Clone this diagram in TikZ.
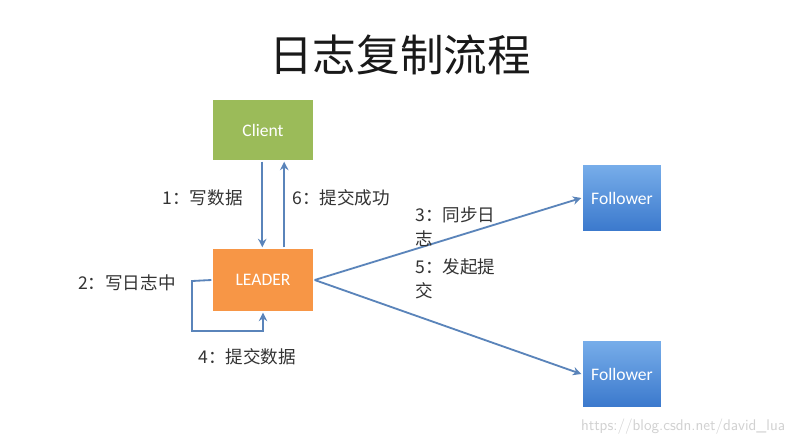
\documentclass[tikz,border=0pt]{standalone}
\usepackage{fontspec}
\setmainfont{Carlito}
\newfontfamily\cjk{Noto Sans CJK SC}
\usetikzlibrary{arrows.meta,shadows}
\definecolor{cgreen}{HTML}{9BBB59}
\definecolor{corange}{HTML}{F79646}
\definecolor{cbluetop}{HTML}{78AEEA}
\definecolor{cbluebot}{HTML}{3A78CC}
\definecolor{carrow}{HTML}{5A84BA}
\tikzset{
  box/.style={draw=white, line width=1pt, minimum width=2.55cm, minimum height=1.55cm,
    inner sep=0pt, font=\fontsize{12.5}{14}\selectfont, text=white,
    drop shadow={shadow xshift=0.6pt, shadow yshift=-0.9pt, opacity=0.35}},
  fbox/.style={box, minimum width=2cm, minimum height=1.7cm, top color=cbluetop, bottom color=cbluebot},
  conn/.style={draw=carrow, line width=1.3pt, -{Stealth[length=6pt,width=6pt]}},
  lbl/.style={font=\cjk\fontsize{12.5}{17.5}\selectfont, text=black!80, inner sep=0pt},
}
\begin{document}
\begin{tikzpicture}[x=0.025cm, y=-0.025cm]
\useasboundingbox[fill=white] (0,0) rectangle (800,442);
\node[font=\cjk\fontsize{31}{36}\selectfont, text=black!90] (title) at (400,55) {日志复制流程};
\node[box, fill=cgreen] (client) at (263,130) {Client};
\node[box, fill=corange, minimum height=1.6cm] (leader) at (263,280) {LEADER};
\node[fbox] (f1) at (622,198) {Follower};
\node[fbox] (f2) at (622,374) {Follower};
\draw[conn] ([xshift=-0.5pt]client.south) -- ([xshift=-0.5pt]leader.north);
\draw[conn] ([xshift=0.53cm]leader.north) -- ([xshift=0.53cm]client.south);
\coordinate (l1) at (192,281);
\coordinate (l2) at (192,331);
\coordinate (l3) at (263,331);
\draw[conn] (leader.west) -- (l1) -- (l2) -- (l3) -- (leader.south);
\draw[conn] (leader.east) -- (f1.west);
\draw[conn] (leader.east) -- (f2.west);
\node[lbl, anchor=east] (t1) at (243,198) {1：写数据};
\node[lbl, anchor=west] (t6) at (292,198) {6：提交成功};
\node[lbl, anchor=north west, align=left] (t3) at (415,206) {3：同步日\\志};
\node[lbl, anchor=north west, align=left] (t5) at (415,258) {5：发起提\\交};
\node[lbl, anchor=east] (t2) at (176,283) {2：写日志中};
\node[lbl, anchor=west] (t4) at (198,357) {4：提交数据};
\node[font=\fontsize{11}{13}\selectfont\sffamily, text=black!18, anchor=east] (wm) at (790,427) {https://blog.csdn.net/david\_lua};
\end{tikzpicture}
\end{document}
